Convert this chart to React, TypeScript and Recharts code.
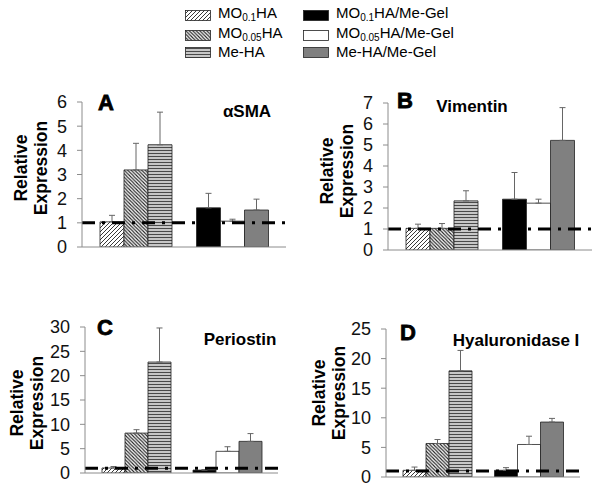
import React from "react";
import { BarChart, Bar, XAxis, YAxis, Cell, ErrorBar, ReferenceLine } from "recharts";

// groups on the x axis (3 series each)
const GROUPS = ["HA", "HA/Me-Gel"];

// legend labels: [prefix, subscript, suffix]
const SERIES_LABELS: [string, string, string][] = [
  ["MO", "0.1", "HA"],
  ["MO", "0.05", "HA"],
  ["Me-HA", "", ""],
  ["MO", "0.1", "HA/Me-Gel"],
  ["MO", "0.05", "HA/Me-Gel"],
  ["Me-HA/Me-Gel", "", ""],
];
const SERIES_FILLS = ["url(#fwd)", "url(#bwd)", "url(#hor)", "#000000", "#ffffff", "#808080"];

// values in series order (MO0.1HA, MO0.05HA, Me-HA, MO0.1HA/Me-Gel, MO0.05HA/Me-Gel, Me-HA/Me-Gel)
const SMA_VALUES = [1.04, 3.19, 4.23, 1.62, 1.07, 1.53];
const SMA_ERRORS = [0.27, 1.1, 1.35, 0.6, 0.08, 0.45];
const SMA_TICKS = [0, 1, 2, 3, 4, 5, 6];

const VIM_VALUES = [1.03, 1.03, 2.34, 2.42, 2.23, 5.22];
const VIM_ERRORS = [0.2, 0.23, 0.48, 1.27, 0.19, 1.56];
const VIM_TICKS = [0, 1, 2, 3, 4, 5, 6, 7];

const PER_VALUES = [1.03, 8.2, 22.8, 0.6, 4.45, 6.5];
const PER_ERRORS = [0.3, 0.7, 7.0, 0.1, 0.95, 1.6];
const PER_TICKS = [0, 5, 10, 15, 20, 25, 30];

const HYA_VALUES = [1.13, 5.66, 17.93, 1.13, 5.49, 9.28];
const HYA_ERRORS = [0.55, 0.67, 3.45, 0.45, 1.4, 0.62];
const HYA_TICKS = [0, 5, 10, 15, 20, 25];

const FONT = '"Liberation Sans", Arial, sans-serif';
const AXIS_GREY = "#8c8c8c";

function buildRows(values: number[], errors: number[]) {
  return GROUPS.map((g, i) => ({
    group: g,
    s0: values[i * 3], s1: values[i * 3 + 1], s2: values[i * 3 + 2],
    e0: [0, errors[i * 3]], e1: [0, errors[i * 3 + 1]], e2: [0, errors[i * 3 + 2]],
  }));
}

interface PanelProps {
  letter: string;
  gene: string;
  values: number[];
  errors: number[];
  ticks: number[];
  plot: { left: number; right: number; top: number; bottom: number };
  barSize: number;
  letterPos: [number, number];
  genePos: [number, number];
  labelPos: [number, number];
}

function Panel(p: PanelProps) {
  const rows = buildRows(p.values, p.errors);
  const yw = 50;
  const left = p.plot.left - yw;
  const top = p.plot.top - 10;
  const width = p.plot.right - p.plot.left + yw + 10;
  const height = p.plot.bottom - p.plot.top + 10 + 10;
  return (
    <>
      <div style={{ position: "absolute", left, top }}>
        <BarChart width={width} height={height} data={rows} barGap={0}
          margin={{ top: 10, right: 10, bottom: 0, left: 0 }}>
          <XAxis dataKey="group" tick={false} tickLine={false} height={10}
            axisLine={{ stroke: AXIS_GREY }} padding={{ left: 6, right: 5 }} />
          <YAxis width={yw} domain={[0, p.ticks[p.ticks.length - 1]]} ticks={p.ticks}
            interval={0} allowDataOverflow tickSize={5} tickMargin={10}
            axisLine={{ stroke: AXIS_GREY }} tickLine={{ stroke: AXIS_GREY }}
            tick={{ fontSize: 18, fill: "#111", fontFamily: FONT }} />
          {[0, 1, 2].map((k) => (
            <Bar key={k} dataKey={`s${k}`} barSize={p.barSize} isAnimationActive={false}
              stroke="#222" strokeWidth={0.8}>
              {rows.map((_, i) => (
                <Cell key={i} fill={SERIES_FILLS[i * 3 + k]} />
              ))}
              <ErrorBar dataKey={`e${k}`} width={3} stroke="#666" strokeWidth={1} direction="y" />
            </Bar>
          ))}
          <ReferenceLine y={1} stroke="#000" strokeWidth={3} strokeDasharray="13 7 3 7" />
        </BarChart>
      </div>
      <div style={{ position: "absolute", left: p.letterPos[0], top: p.letterPos[1], transform: "translate(-50%,-50%)",
        fontFamily: FONT, fontWeight: 900, fontSize: 22, WebkitTextStroke: "0.8px #000", lineHeight: 1 }}>
        {p.letter}
      </div>
      <div style={{ position: "absolute", left: p.genePos[0], top: p.genePos[1], transform: "translate(-50%,-50%)",
        fontFamily: FONT, fontWeight: "bold", fontSize: 17, whiteSpace: "nowrap", lineHeight: 1 }}>
        {p.gene}
      </div>
      <div style={{ position: "absolute", left: p.labelPos[0], top: p.labelPos[1],
        transform: "translate(-50%,-50%) rotate(-90deg)", fontFamily: FONT, fontWeight: "bold",
        fontSize: 17.5, lineHeight: "20px", textAlign: "center", whiteSpace: "nowrap" }}>
        Relative<br />Expression
      </div>
    </>
  );
}

function Swatch({ fill }: { fill: string }) {
  return (
    <svg width={26} height={11} style={{ display: "block" }}>
      <rect x={0.5} y={0.5} width={25} height={10} fill={fill} stroke="#222" strokeWidth={0.8} />
    </svg>
  );
}

function Legend() {
  const colX = [185, 303];
  const rowY = [13, 33, 52];
  return (
    <>
      {SERIES_LABELS.map((lab, i) => {
        const col = Math.floor(i / 3);
        const row = i % 3;
        return (
          <div key={i} style={{ position: "absolute", left: colX[col], top: rowY[row] - 6, display: "flex",
            alignItems: "center", fontFamily: FONT, fontSize: 15, lineHeight: "12px", whiteSpace: "nowrap" }}>
            <Swatch fill={SERIES_FILLS[i]} />
            <span style={{ marginLeft: 7 }}>
              {lab[0]}
              {lab[1] && <sub style={{ fontSize: 10, verticalAlign: "-3px" }}>{lab[1]}</sub>}
              {lab[2]}
            </span>
          </div>
        );
      })}
    </>
  );
}

export default function App() {
  return (
    <div style={{ position: "absolute", left: 0, top: 0, width: 600, height: 489, background: "#fff", overflow: "hidden" }}>
      <svg width={0} height={0} style={{ position: "absolute" }}>
        <defs>
          <pattern id="fwd" patternUnits="userSpaceOnUse" width={4} height={4}>
            <rect width={4} height={4} fill="#fff" />
            <path d="M-1,1 l2,-2 M0,4 l4,-4 M3,5 l2,-2" stroke="#222" strokeWidth={0.9} />
          </pattern>
          <pattern id="bwd" patternUnits="userSpaceOnUse" width={3.5} height={3.5}>
            <rect width={3.5} height={3.5} fill="#fff" />
            <path d="M-1,2.5 l2,2 M0,0 l3.5,3.5 M2.5,-1 l2,2" stroke="#222" strokeWidth={1.1} />
          </pattern>
          <pattern id="hor" patternUnits="userSpaceOnUse" width={4} height={3}>
            <rect width={4} height={3} fill="#e6e6e6" />
            <path d="M0,1.5 h4" stroke="#4a4a4a" strokeWidth={1.4} />
          </pattern>
        </defs>
      </svg>
      <Legend />
      <Panel letter="A" gene="αSMA" values={SMA_VALUES} errors={SMA_ERRORS} ticks={SMA_TICKS}
        plot={{ left: 82, right: 286, top: 102, bottom: 247 }} barSize={24}
        letterPos={[106, 103]} genePos={[247, 111]} labelPos={[31, 168]} />
      <Panel letter="B" gene="Vimentin" values={VIM_VALUES} errors={VIM_ERRORS} ticks={VIM_TICKS}
        plot={{ left: 388, right: 592, top: 103, bottom: 250 }} barSize={24}
        letterPos={[405, 101]} genePos={[472, 106]} labelPos={[337, 171]} />
      <Panel letter="C" gene="Periostin" values={PER_VALUES} errors={PER_ERRORS} ticks={PER_TICKS}
        plot={{ left: 85, right: 278, top: 327, bottom: 473 }} barSize={23}
        letterPos={[105, 328]} genePos={[240, 339]} labelPos={[27, 403]} />
      <Panel letter="D" gene="Hyaluronidase I" values={HYA_VALUES} errors={HYA_ERRORS} ticks={HYA_TICKS}
        plot={{ left: 386, right: 580, top: 329, bottom: 477 }} barSize={23}
        letterPos={[408, 333]} genePos={[516, 340]} labelPos={[329, 393]} />
    </div>
  );
}
